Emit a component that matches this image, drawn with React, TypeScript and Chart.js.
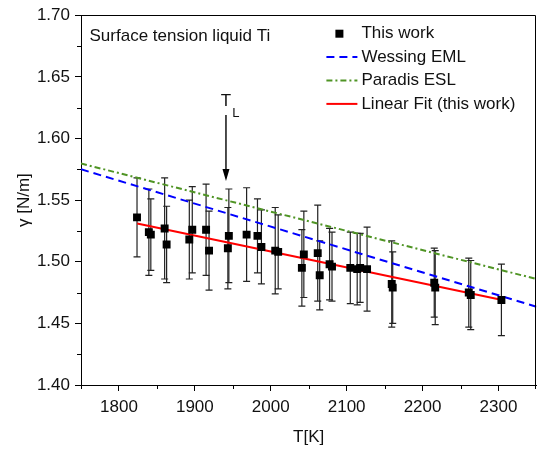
import React, { useEffect, useRef } from 'react';
import { Chart, registerables } from 'chart.js';

Chart.register(...registerables);

// ---- data ----
const temps = [1823.8, 1839.4, 1842.0, 1860.2, 1862.8, 1892.7, 1896.6, 1914.8, 1918.7, 1944.8, 1943.5, 1968.2, 1982.5, 1987.7, 2005.9, 2009.8, 2041.0, 2043.6, 2061.9, 2064.5, 2077.5, 2080.7, 2104.8, 2113.9, 2117.8, 2126.9, 2159.4, 2160.7, 2215.4, 2216.7, 2260.9, 2263.5, 2303.9];
const gammas = [1.536, 1.524, 1.522, 1.527, 1.514, 1.518, 1.526, 1.526, 1.509, 1.521, 1.511, 1.522, 1.521, 1.512, 1.509, 1.508, 1.495, 1.506, 1.507, 1.489, 1.498, 1.496, 1.495, 1.494, 1.495, 1.494, 1.482, 1.479, 1.483, 1.479, 1.475, 1.473, 1.469];
const errors = [0.032, 0.035, 0.029, 0.041, 0.031, 0.032, 0.035, 0.037, 0.032, 0.038, 0.033, 0.038, 0.030, 0.030, 0.035, 0.030, 0.031, 0.035, 0.039, 0.028, 0.029, 0.028, 0.029, 0.029, 0.028, 0.034, 0.035, 0.029, 0.028, 0.030, 0.028, 0.028, 0.029];

const wessingT = [1750, 2350];
const wessingG = [1.575, 1.4635];
const paradisT = [1750, 2350];
const paradisG = [1.5797, 1.486];
const fitT = [1824, 2305];
const fitG = [1.5311, 1.4689];

const xTicks = [1800, 1900, 2000, 2100, 2200, 2300];
const xMinor = [1750, 1850, 1950, 2050, 2150, 2250, 2350];
const yTicks = [1.40, 1.45, 1.50, 1.55, 1.60, 1.65, 1.70];
const yMinor = [1.425, 1.475, 1.525, 1.575, 1.625, 1.675];

const seriesLabels = ['This work', 'Wessing EML', 'Paradis ESL', 'Linear Fit (this work)'];
const panelTitle = 'Surface tension liquid Ti';
const xTitle = 'T[K]';
const yTitle = 'γ [N/m]';

// melting point annotation
const meltT = 1941;
const meltLabelG = 1.6262;
const meltArrowTopG = 1.619;
const meltArrowTipG = 1.5655;

const FONT = '"Liberation Sans", Arial, Helvetica, sans-serif';
const TXT = '#111';

const toXY = (xs: number[], ys: number[]) => xs.map((x, i) => ({ x, y: ys[i] }));

export default function App() {
  const ref = useRef<HTMLCanvasElement>(null);

  useEffect(() => {
    const canvas = ref.current;
    if (!canvas) return;

    const errPlugin = {
      id: 'errbars',
      beforeDatasetsDraw(chart: any) {
        const { ctx } = chart;
        const x = chart.scales.x;
        const y = chart.scales.y;
        ctx.save();
        ctx.strokeStyle = '#222';
        ctx.lineWidth = 1.2;
        temps.forEach((t, i) => {
          const px = x.getPixelForValue(t);
          const top = y.getPixelForValue(gammas[i] + errors[i]);
          const bot = y.getPixelForValue(gammas[i] - errors[i]);
          ctx.beginPath();
          ctx.moveTo(px, top);
          ctx.lineTo(px, bot);
          ctx.moveTo(px - 3.5, top);
          ctx.lineTo(px + 3.5, top);
          ctx.moveTo(px - 3.5, bot);
          ctx.lineTo(px + 3.5, bot);
          ctx.stroke();
        });
        ctx.restore();
      },
    };

    const decoPlugin = {
      id: 'deco',
      afterDraw(chart: any) {
        const { ctx, chartArea } = chart;
        const x = chart.scales.x;
        const y = chart.scales.y;
        const { left, right, top, bottom } = chartArea;
        ctx.save();
        // frame top + right
        ctx.strokeStyle = '#000';
        ctx.lineWidth = 1;
        ctx.beginPath();
        ctx.moveTo(Math.round(left) + 0.5, Math.round(top) + 0.5);
        ctx.lineTo(Math.round(right) - 0.5, Math.round(top) + 0.5);
        ctx.lineTo(Math.round(right) - 0.5, Math.round(bottom) + 0.5);
        ctx.stroke();
        // minor ticks
        ctx.beginPath();
        xMinor.forEach((v) => {
          let px = Math.round(x.getPixelForValue(v)) + 0.5;
          if (px > right) px = Math.round(right) - 0.5;
          ctx.moveTo(px, Math.round(bottom));
          ctx.lineTo(px, Math.round(bottom) + 4);
        });
        yMinor.forEach((v) => {
          const py = Math.round(y.getPixelForValue(v)) + 0.5;
          ctx.moveTo(Math.round(left), py);
          ctx.lineTo(Math.round(left) - 4, py);
        });
        ctx.stroke();

        // panel title
        ctx.fillStyle = TXT;
        ctx.font = `17px ${FONT}`;
        ctx.textAlign = 'left';
        ctx.textBaseline = 'alphabetic';
        ctx.fillText(panelTitle, left + 8.5, top + 25.7);

        // melting point annotation
        const mx = x.getPixelForValue(meltT);
        const ly = y.getPixelForValue(meltLabelG);
        ctx.font = `17px ${FONT}`;
        ctx.textAlign = 'center';
        ctx.fillText('T', mx, ly);
        const tw = ctx.measureText('T').width;
        ctx.font = `13px ${FONT}`;
        ctx.textAlign = 'left';
        ctx.fillText('L', mx + tw / 2 + 1, ly + 11);
        const ay0 = y.getPixelForValue(meltArrowTopG);
        const ay1 = y.getPixelForValue(meltArrowTipG);
        ctx.strokeStyle = '#000';
        ctx.lineWidth = 1.4;
        ctx.beginPath();
        ctx.moveTo(mx, ay0);
        ctx.lineTo(mx, ay1 - 8);
        ctx.stroke();
        ctx.fillStyle = '#000';
        ctx.beginPath();
        ctx.moveTo(mx - 3.5, ay1 - 12);
        ctx.lineTo(mx + 3.5, ay1 - 12);
        ctx.lineTo(mx, ay1);
        ctx.closePath();
        ctx.fill();

        // legend
        const lx0 = right - 210;
        const lx1 = right - 179;
        const tx = right - 175;
        chart.data.datasets.forEach((ds: any, i: number) => {
          const ry = top + 18.5 + i * 23.4;
          if (ds.showLine) {
            ctx.strokeStyle = ds.borderColor;
            ctx.lineWidth = 2;
            ctx.setLineDash(ds.borderDash || []);
            ctx.beginPath();
            ctx.moveTo(lx0, ry);
            ctx.lineTo(lx1, ry);
            ctx.stroke();
            ctx.setLineDash([]);
          } else {
            ctx.fillStyle = ds.backgroundColor;
            ctx.fillRect(right - 201, ry - 4, 8, 8);
          }
          ctx.fillStyle = TXT;
          ctx.font = `17px ${FONT}`;
          ctx.textAlign = 'left';
          ctx.textBaseline = 'middle';
          ctx.fillText(ds.label, tx, ry);
        });
        ctx.restore();
      },
    };

    const chart = new Chart(canvas, {
      type: 'scatter',
      data: {
        datasets: [
          {
            label: seriesLabels[0],
            data: toXY(temps, gammas),
            pointStyle: 'rect',
            pointRadius: 5.6,
            backgroundColor: '#000',
            borderColor: '#000',
            borderWidth: 0,
            showLine: false,
            order: 0,
          },
          {
            label: seriesLabels[1],
            data: toXY(wessingT, wessingG),
            showLine: true,
            borderColor: '#0000ff',
            borderWidth: 2,
            borderDash: [8, 5],
            pointRadius: 0,
            order: 2,
          },
          {
            label: seriesLabels[2],
            data: toXY(paradisT, paradisG),
            showLine: true,
            borderColor: '#4f9424',
            borderWidth: 2,
            borderDash: [6, 3, 2, 3],
            pointRadius: 0,
            order: 3,
          },
          {
            label: seriesLabels[3],
            data: toXY(fitT, fitG),
            showLine: true,
            borderColor: '#ff0000',
            borderWidth: 2,
            pointRadius: 0,
            order: 1,
          },
        ] as any,
      },
      options: {
        responsive: false,
        animation: false,
        devicePixelRatio: 1,
        layout: { padding: { top: 15, right: 1, left: 0, bottom: 0 } },
        plugins: {
          legend: { display: false },
          tooltip: { enabled: false },
        },
        scales: {
          x: {
            type: 'linear',
            min: 1750,
            max: 2350,
            afterBuildTicks: (s: any) => {
              s.ticks = xTicks.map((v) => ({ value: v }));
            },
            afterFit: (s: any) => {
              s.height = 66;
            },
            ticks: {
              font: { family: FONT, size: 17 },
              color: TXT,
              padding: 6.5,
              maxRotation: 0,
              autoSkip: false,
              callback: (v: any) => String(v),
            },
            grid: {
              drawOnChartArea: false,
              drawTicks: true,
              tickLength: 6,
              tickColor: '#000',
              color: '#000',
              lineWidth: 1,
            },
            border: { display: true, color: '#000', width: 1 },
            title: {
              display: true,
              text: xTitle,
              font: { family: FONT, size: 17 },
              color: TXT,
              padding: { top: 4, bottom: 3 },
            },
          },
          y: {
            type: 'linear',
            min: 1.4,
            max: 1.7,
            afterBuildTicks: (s: any) => {
              s.ticks = yTicks.map((v) => ({ value: v }));
            },
            afterFit: (s: any) => {
              s.width = 81;
            },
            ticks: {
              font: { family: FONT, size: 17 },
              color: TXT,
              padding: 5,
              autoSkip: false,
              callback: (v: any) => Number(v).toFixed(2),
            },
            grid: {
              drawOnChartArea: false,
              drawTicks: true,
              tickLength: 6,
              tickColor: '#000',
              color: '#000',
              lineWidth: 1,
            },
            border: { display: true, color: '#000', width: 1 },
            title: {
              display: true,
              text: yTitle,
              font: { family: FONT, size: 17 },
              color: TXT,
              padding: { top: 14, bottom: 4 },
            },
          },
        },
      } as any,
      plugins: [errPlugin, decoPlugin],
    });

    return () => {
      chart.destroy();
    };
  }, []);

  return (
    <div style={{ position: 'fixed', left: 0, top: 0, width: 542, height: 451, background: '#fff' }}>
      <canvas ref={ref} width={542} height={451} style={{ width: 542, height: 451, display: 'block' }} />
    </div>
  );
}
